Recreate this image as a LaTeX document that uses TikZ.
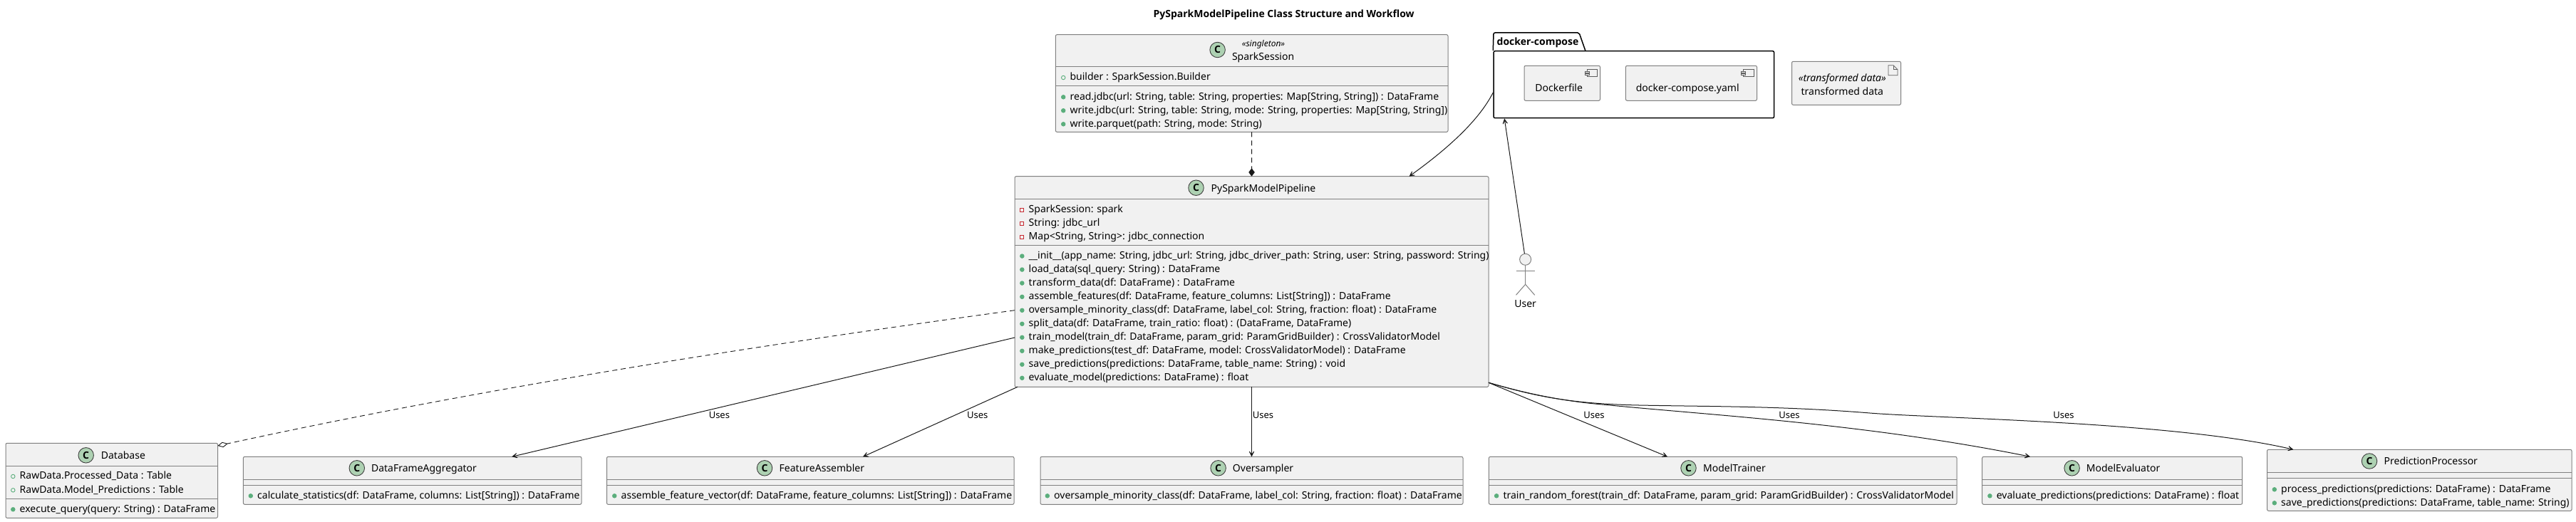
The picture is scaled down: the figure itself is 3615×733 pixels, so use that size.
\documentclass[tikz,border=0pt]{standalone}
\usepackage{fontspec}
\setmainfont{Noto Sans}
\newfontfamily\headfont{Open Sans}
\usepackage{xcolor}
\usetikzlibrary{arrows.meta}
\definecolor{boxfill}{HTML}{F1F1F1}
\definecolor{boxline}{HTML}{808080}
\definecolor{spotgreen}{HTML}{ADD1B2}
\definecolor{pubgreen}{HTML}{5BAE7C}
\definecolor{privred}{HTML}{C82930}
\definecolor{inkline}{HTML}{181818}
\tikzset{
  classbox/.style={draw=boxline, fill=boxfill, line width=1pt, rounded corners=2pt, inner sep=0pt, outer sep=0pt},
  sepline/.style={draw=boxline, line width=1pt},
  spot/.style={circle, draw=black!75, fill=spotgreen, line width=0.9pt, minimum size=21.5pt, inner sep=0pt, font=\fontsize{14}{14}\selectfont\headfont\bfseries},
  classname/.style={anchor=base, inner sep=0pt, font=\fontsize{14}{16}\selectfont},
  member/.style={anchor=base west, inner sep=0pt, text height=10.4pt, text depth=3pt, font=\fontsize{14}{16}\selectfont},
  pubfield/.style={member, label={[circle, draw=pubgreen, line width=0.9pt, minimum size=5.5pt, inner sep=0pt, label distance=6pt]left:{}}},
  pubmethod/.style={member, label={[circle, draw=pubgreen, fill=pubgreen, line width=0.9pt, minimum size=5.5pt, inner sep=0pt, label distance=6pt]left:{}}},
  privfield/.style={member, label={[rectangle, draw=privred, line width=0.9pt, minimum size=5pt, inner sep=0pt, label distance=6.5pt]left:{}}},
  useline/.style={draw=inkline, line width=1pt, -{Stealth[length=12.5pt,width=12.5pt,inset=9pt]}},
  pkgline/.style={draw=black, line width=1.5pt, rounded corners=2pt},
  iconline/.style={draw=inkline!70, line width=0.7pt, fill=boxfill},
  useslabel/.style={anchor=base, inner sep=0pt, font=\fontsize{13}{15}\selectfont}
}
\begin{document}
\begin{tikzpicture}[x=1pt, y=1pt]
    \useasboundingbox (0,0) rectangle (3615,-733);

    % Title
    \node at (1801.6,-25) (title) [anchor=base, inner sep=0pt, font=\fontsize{14}{16}\selectfont\headfont\bfseries] {PySparkModelPipeline Class Structure and Workflow};

    % SparkSession
    \node at (1756.65,-117) (sparkSession) [classbox, minimum width=550.7pt, minimum height=136.6pt] {};
    \draw[sepline] (sparkSession.west |- 0,-93.3) -- (sparkSession.east |- 0,-93.3);
    \draw[sepline] (sparkSession.west |- 0,-120.3) -- (sparkSession.east |- 0,-120.3);
    \node at (1708.6,-70) (sparkSpot) [spot] {C};
    \node at (1773,-65.7) (sparkStereo) [classname, font=\fontsize{12}{14}\selectfont\itshape] {«singleton»};
    \node at (1772.6,-84.3) (sparkName) [classname] {SparkSession};
    \node at (1501.4,-112.7) (sparkBuilder) [pubfield] {builder : SparkSession.Builder};
    \node at (1501.4,-140) (sparkRead) [pubmethod] {read.jdbc(url: String, table: String, properties: Map[String, String]) : DataFrame};
    \node at (1501.4,-159) (sparkWrite) [pubmethod] {write.jdbc(url: String, table: String, mode: String, properties: Map[String, String])};
    \node at (1501.4,-178) (sparkParquet) [pubmethod] {write.parquet(path: String, mode: String)};

    % PySparkModelPipeline
    \node at (1756.5,-395.5) (pipeline) [classbox, minimum width=665pt, minimum height=295.6pt] {};
    \draw[sepline] (pipeline.west |- 0,-279.3) -- (pipeline.east |- 0,-279.3);
    \draw[sepline] (pipeline.west |- 0,-344.3) -- (pipeline.east |- 0,-344.3);
    \node at (1678.5,-263.7) (pipeSpot) [spot] {C};
    \node at (1773,-269) (pipeName) [classname] {PySparkModelPipeline};
    \node at (1443.5,-298.3) (pipeSpark) [privfield] {SparkSession: spark};
    \node at (1443.5,-317.3) (pipeUrl) [privfield] {String: jdbc\_url};
    \node at (1443.5,-336.3) (pipeConn) [privfield] {Map<String, String>: jdbc\_connection};
    \node at (1443.5,-363.3) (pipeInit) [pubmethod] {\_\_init\_\_(app\_name: String, jdbc\_url: String, jdbc\_driver\_path: String, user: String, password: String)};
    \node at (1443.5,-382.3) (pipeLoad) [pubmethod] {load\_data(sql\_query: String) : DataFrame};
    \node at (1443.5,-401.3) (pipeTransform) [pubmethod] {transform\_data(df: DataFrame) : DataFrame};
    \node at (1443.5,-420.5) (pipeAssemble) [pubmethod] {assemble\_features(df: DataFrame, feature\_columns: List[String]) : DataFrame};
    \node at (1443.5,-439.5) (pipeOversample) [pubmethod] {oversample\_minority\_class(df: DataFrame, label\_col: String, fraction: float) : DataFrame};
    \node at (1443.5,-458.5) (pipeSplit) [pubmethod] {split\_data(df: DataFrame, train\_ratio: float) : (DataFrame, DataFrame)};
    \node at (1443.5,-477.5) (pipeTrain) [pubmethod] {train\_model(train\_df: DataFrame, param\_grid: ParamGridBuilder) : CrossValidatorModel};
    \node at (1443.5,-496.5) (pipeMake) [pubmethod] {make\_predictions(test\_df: DataFrame, model: CrossValidatorModel) : DataFrame};
    \node at (1443.5,-515.5) (pipeSave) [pubmethod] {save\_predictions(predictions: DataFrame, table\_name: String) : void};
    \node at (1443.5,-534.5) (pipeEval) [pubmethod] {evaluate\_model(predictions: DataFrame) : float};

    % docker-compose package
    \node at (2292.8,-118.7) (dockerPkg) [draw=black, line width=1.5pt, rounded corners=2pt, inner sep=0pt, minimum width=393.6pt, minimum height=94pt] {};
    \draw[pkgline] (dockerPkg.north west) -- (2096,-46) -- (2216,-46) -- (2225,-71.7);
    \node at (2158,-64) (dockerLabel) [classname, font=\fontsize{14}{16}\selectfont\headfont\bfseries] {docker-compose};
    \node at (2192.25,-116.8) (dockerfile) [classbox, minimum width=106.5pt, minimum height=49pt] {};
    \draw[iconline] (2227.2,-97.3) rectangle (2241.8,-107.7);
    \draw[iconline] (2224.3,-100) rectangle (2230,-102) (2224.3,-103.5) rectangle (2230,-105.5);
    \node at (2187.7,-128.3) (dockerfileName) [classname] {Dockerfile};
    \node at (2373.45,-116.8) (composeYaml) [classbox, minimum width=184.1pt, minimum height=49pt] {};
    \draw[iconline] (2446.4,-97.3) rectangle (2461,-107.7);
    \draw[iconline] (2443.5,-100) rectangle (2449.2,-102) (2443.5,-103.5) rectangle (2449.2,-105.5);
    \node at (2368.2,-128.3) (composeYamlName) [classname] {docker-compose.yaml};

    % transformed data artifact
    \node at (2591,-116.8) (transformedData) [classbox, minimum width=153pt, minimum height=61pt] {};
    \draw[iconline] (2650,-91.7) -- (2657,-91.7) -- (2663,-97.7) -- (2663,-105.7) -- (2650,-105.7) -- cycle;
    \draw[iconline, fill=none] (2657,-91.7) -- (2657,-97.7) -- (2663,-97.7);
    \node at (2585.3,-114.3) (transformedStereo) [classname, font=\fontsize{14}{16}\selectfont\itshape] {«transformed data»};
    \node at (2585.3,-134) (transformedName) [classname] {transformed data};

    % User actor
    \node at (2140.6,-364.3) (userHead) [circle, draw=boxline, fill=boxfill, line width=1pt, minimum size=16pt, inner sep=0pt] {};
    \coordinate (userHip) at (2140.6,-399.3);
    \draw[sepline] (userHead.south) -- (userHip);
    \draw[sepline] (2127.5,-380.3) -- (2153.7,-380.3);
    \draw[sepline] (2127.5,-414.3) -- (userHip) -- (2153.7,-414.3);
    \node at (2140.6,-431) (userName) [classname] {User};

    % Database
    \node at (156.75,-674.8) (database) [classbox, minimum width=297.5pt, minimum height=105pt] {};
    \draw[sepline] (database.west |- 0,-654.3) -- (database.east |- 0,-654.3);
    \draw[sepline] (database.west |- 0,-700.3) -- (database.east |- 0,-700.3);
    \node at (120.7,-639.3) (dbSpot) [spot] {C};
    \node at (172.9,-644) (dbName) [classname] {Database};
    \node at (27.5,-672.7) (dbProcessed) [pubfield] {RawData.Processed\_Data : Table};
    \node at (27.5,-692) (dbPredictions) [pubfield] {RawData.Model\_Predictions : Table};
    \node at (27.5,-719) (dbQuery) [pubmethod] {execute\_query(query: String) : DataFrame};

    % DataFrameAggregator
    \node at (578.7,-674.8) (aggregator) [classbox, minimum width=474.6pt, minimum height=67pt] {};
    \draw[sepline] (aggregator.west |- 0,-673.3) -- (aggregator.east |- 0,-673.3);
    \draw[sepline] (aggregator.west |- 0,-681.3) -- (aggregator.east |- 0,-681.3);
    \node at (500.8,-657.3) (aggregatorSpot) [spot] {C};
    \node at (595,-662.3) (aggregatorName) [classname] {DataFrameAggregator};
    \node at (361,-700) (aggregatorStats) [pubmethod] {calculate\_statistics(df: DataFrame, columns: List[String]) : DataFrame};

    % FeatureAssembler
    \node at (1137.25,-674.8) (assembler) [classbox, minimum width=571.5pt, minimum height=67pt] {};
    \draw[sepline] (assembler.west |- 0,-673.3) -- (assembler.east |- 0,-673.3);
    \draw[sepline] (assembler.west |- 0,-681.3) -- (assembler.east |- 0,-681.3);
    \node at (1073,-657.3) (assemblerSpot) [spot] {C};
    \node at (1153.4,-662.3) (assemblerName) [classname] {FeatureAssembler};
    \node at (871.5,-700) (assemblerVector) [pubmethod] {assemble\_feature\_vector(df: DataFrame, feature\_columns: List[String]) : DataFrame};

    % Oversampler
    \node at (1756.5,-674.8) (oversampler) [classbox, minimum width=593pt, minimum height=67pt] {};
    \draw[sepline] (oversampler.west |- 0,-673.3) -- (oversampler.east |- 0,-673.3);
    \draw[sepline] (oversampler.west |- 0,-681.3) -- (oversampler.east |- 0,-681.3);
    \node at (1709.6,-657.3) (oversamplerSpot) [spot] {C};
    \node at (1772.6,-662.3) (oversamplerName) [classname] {Oversampler};
    \node at (1479,-700) (oversamplerClass) [pubmethod] {oversample\_minority\_class(df: DataFrame, label\_col: String, fraction: float) : DataFrame};

    % ModelTrainer
    \node at (2417.7,-674.8) (trainer) [classbox, minimum width=656.6pt, minimum height=67pt] {};
    \draw[sepline] (trainer.west |- 0,-673.3) -- (trainer.east |- 0,-673.3);
    \draw[sepline] (trainer.west |- 0,-681.3) -- (trainer.east |- 0,-681.3);
    \node at (2369.5,-657.3) (trainerSpot) [spot] {C};
    \node at (2434,-662.3) (trainerName) [classname] {ModelTrainer};
    \node at (2109.3,-700) (trainerForest) [pubmethod] {train\_random\_forest(train\_df: DataFrame, param\_grid: ParamGridBuilder) : CrossValidatorModel};

    % ModelEvaluator
    \node at (2964.2,-674.8) (evaluator) [classbox, minimum width=365pt, minimum height=67pt] {};
    \draw[sepline] (evaluator.west |- 0,-673.3) -- (evaluator.east |- 0,-673.3);
    \draw[sepline] (evaluator.west |- 0,-681.3) -- (evaluator.east |- 0,-681.3);
    \node at (2907.6,-657.3) (evaluatorSpot) [spot] {C};
    \node at (2979.6,-662.3) (evaluatorName) [classname] {ModelEvaluator};
    \node at (2801.6,-700) (evaluatorPredictions) [pubmethod] {evaluate\_predictions(predictions: DataFrame) : float};

    % PredictionProcessor
    \node at (3395.25,-674.3) (processor) [classbox, minimum width=427.5pt, minimum height=86pt] {};
    \draw[sepline] (processor.west |- 0,-663.3) -- (processor.east |- 0,-663.3);
    \draw[sepline] (processor.west |- 0,-671) -- (processor.east |- 0,-671);
    \node at (3325,-647.5) (processorSpot) [spot] {C};
    \node at (3411.3,-652.3) (processorName) [classname] {PredictionProcessor};
    \node at (3201,-691) (processorProcess) [pubmethod] {process\_predictions(predictions: DataFrame) : DataFrame};
    \node at (3201,-710) (processorSave) [pubmethod] {save\_predictions(predictions: DataFrame, table\_name: String)};

    % Arrows
    \draw[inkline, line width=0.9pt, dashed, dash pattern=on 7pt off 5pt, -{Diamond[fill=inkline, length=11.5pt, width=8.5pt]}] (sparkSession.south) -- (pipeline.north);
    \draw[useline] ([yshift=-11.3pt]dockerPkg.west) .. controls (2075,-170) and (2030,-210) .. ([xshift=221pt]pipeline.north);
    \draw[useline] (userHead) -- ([xshift=-181.6pt]dockerPkg.south);
    \draw[inkline, line width=0.9pt, dashed, dash pattern=on 7pt off 5pt, -{Diamond[open, fill=white, length=14.5pt, width=7.5pt]}] ([yshift=-40.2pt]pipeline.west) .. controls (1100,-480) and (700,-540) .. ([yshift=48.8pt]database.east);
    \draw[useline] ([yshift=-78.5pt]pipeline.west) -- ([xshift=139.6pt]aggregator.north);
    \draw[useline] ([xshift=-328.5pt]pipeline.south) -- ([xshift=73.75pt]assembler.north);
    \draw[useline] (pipeline.south) -- (oversampler.north);
    \draw[useline] ([yshift=-141.8pt]pipeline.east) -- ([xshift=-77.7pt]trainer.north);
    \draw[useline] ([yshift=-141.8pt]pipeline.east) .. controls (2150,-555) and (2200,-564) .. (2254,-568.5) .. controls (2400,-583) and (2620,-595) .. ([xshift=-115.2pt]evaluator.north);
    \draw[useline] ([yshift=-141.8pt]pipeline.east) .. controls (2150,-555) and (2200,-567) .. (2300,-569) .. controls (2400,-571) and (2500,-570) .. (2624,-580) .. controls (2720,-587.7) and (3050,-592) .. ([xshift=-176.85pt]processor.north);

    % Uses labels
    \node at (1009.4,-587.7) (usesAggregator) [useslabel] {Uses};
    \node at (1371.8,-587.7) (usesAssembler) [useslabel] {Uses};
    \node at (1772.5,-587.7) (usesOversampler) [useslabel] {Uses};
    \node at (2237,-587.7) (usesTrainer) [useslabel] {Uses};
    \node at (2511,-587.7) (usesEvaluator) [useslabel] {Uses};
    \node at (2896,-587.7) (usesProcessor) [useslabel] {Uses};

\end{tikzpicture}
\end{document}
